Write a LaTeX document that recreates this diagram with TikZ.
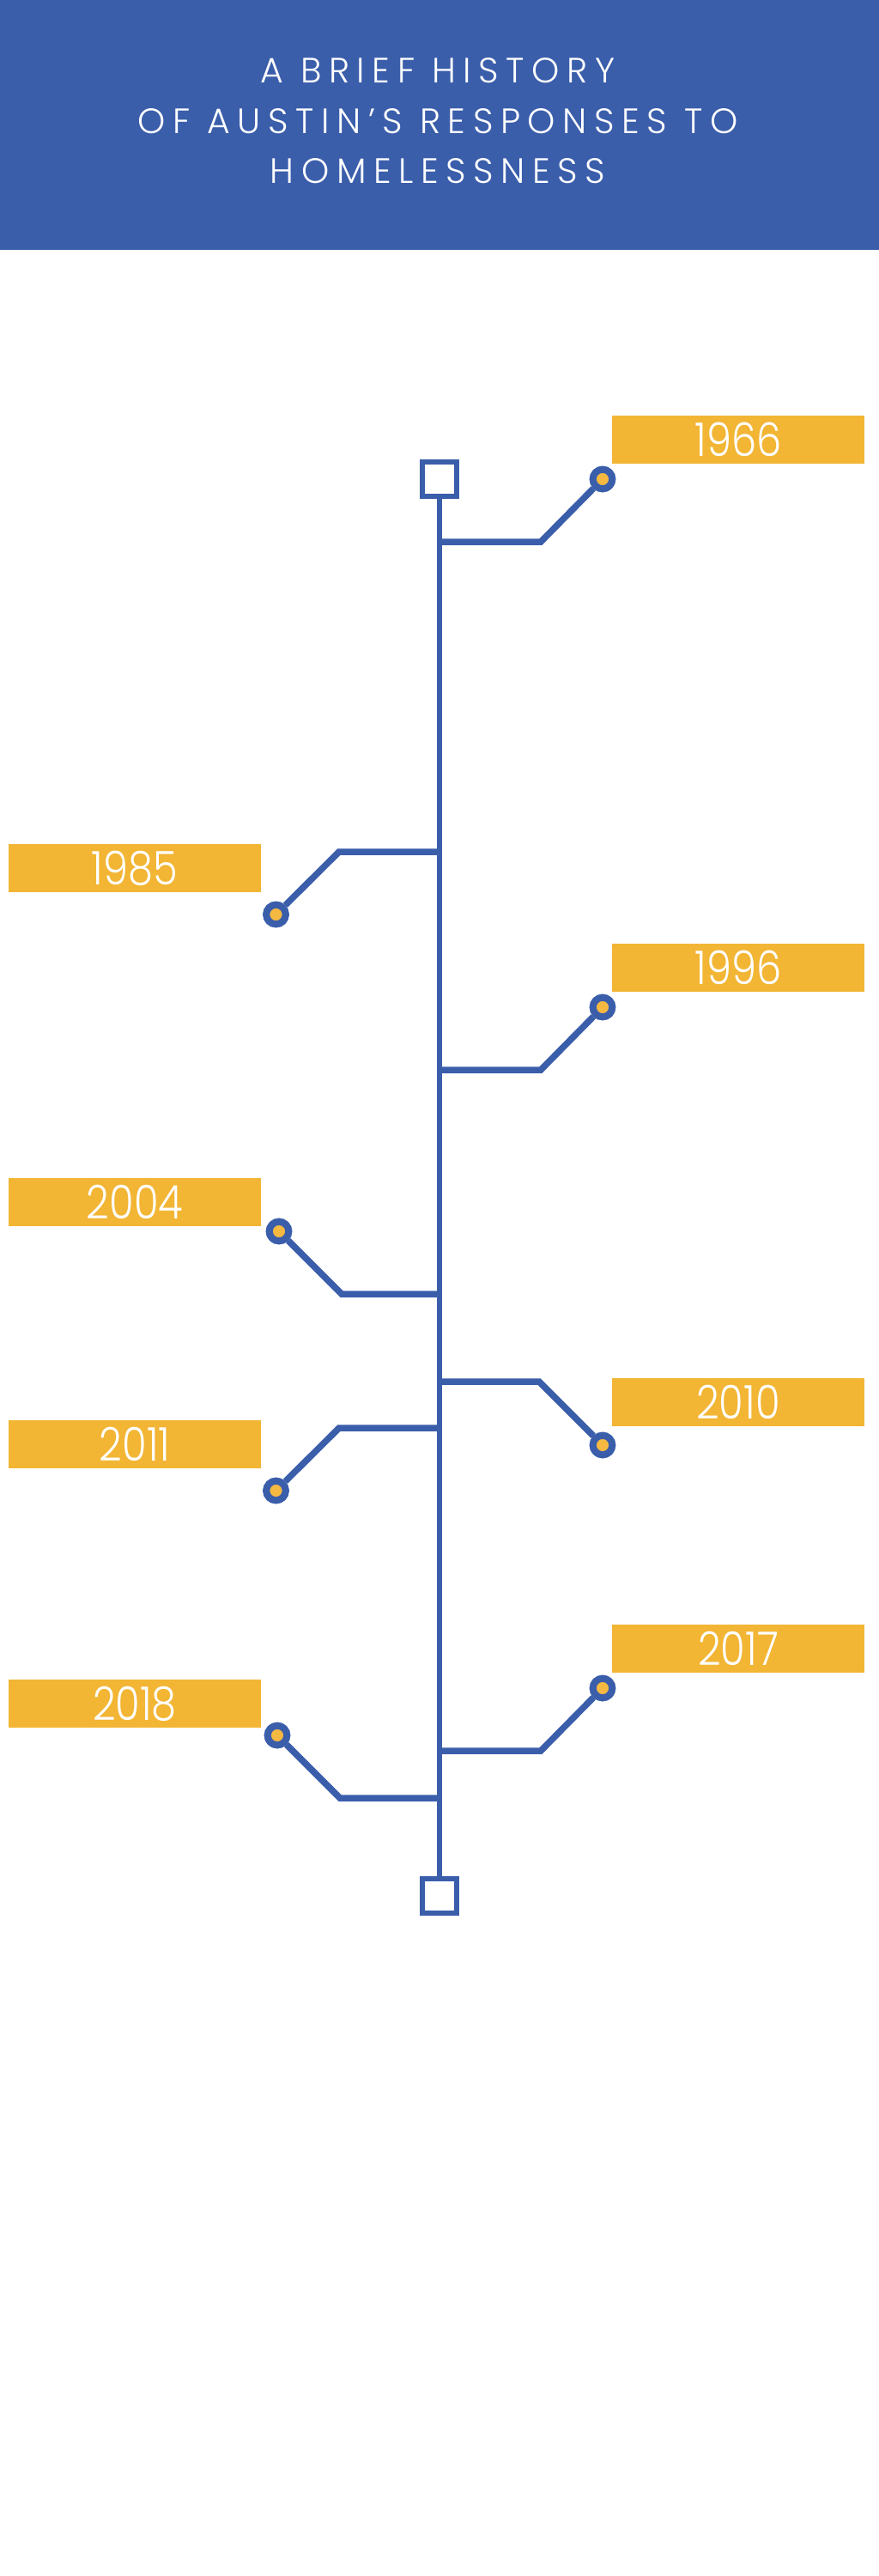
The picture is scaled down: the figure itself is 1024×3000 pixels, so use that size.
\documentclass[tikz,border=0pt]{standalone}
\usepackage{fontspec}
\IfFontExistsTF{Poppins Light}
  {\newfontfamily\yearfont{Poppins Light}\newfontfamily\titlefont{Poppins Light}[LetterSpace=21]}
  {\newfontfamily\yearfont{Poppins}\newfontfamily\titlefont{Poppins}[LetterSpace=18]}
\definecolor{tlblue}{RGB}{59,94,171}
\definecolor{tlyellow}{RGB}{242,181,52}
\definecolor{dotyellow}{RGB}{245,185,66}
\newcommand{\yr}[1]{\scalebox{0.86}[1]{#1}}
\begin{document}
\begin{tikzpicture}[x=1pt,y=-1pt,
  spine/.style={draw=tlblue,line width=6pt},
  branch/.style={draw=tlblue,line width=7.5pt,line join=miter},
  endsq/.style={draw=tlblue,fill=white,line width=6pt,minimum size=40pt,inner sep=0pt,rectangle},
  dot/.style={circle,draw=tlblue,fill=dotyellow,line width=8pt,minimum size=22.5pt,inner sep=0pt},
  yearbox/.style={fill=tlyellow,minimum width=294pt,minimum height=56pt,inner sep=0pt,text=white,font=\yearfont\fontsize{54}{54}\selectfont},
  titleline/.style={anchor=base,text=white,font=\titlefont\fontsize{41}{41}\selectfont,inner sep=0pt}]
\useasboundingbox (0,0) rectangle (1024,3000);
\fill[white] (0,0) rectangle (1024,3000);
% header
\node[fill=tlblue,minimum width=1024pt,minimum height=291pt,inner sep=0pt,anchor=north west] (header) at (0,0) {};
\node[titleline] (t1) at (510,97) {A BRIEF HISTORY};
\node[titleline] (t2) at (510,155) {OF AUSTIN’S RESPONSES TO};
\node[titleline] (t3) at (510,213) {HOMELESSNESS};
% spine
\node[endsq] (sqtop) at (512,558) {};
\node[endsq] (sqbot) at (512,2207.5) {};
\draw[spine] (sqtop.south) -- (sqbot.north);
% branch coordinates
\coordinate (b1) at (512,631);  \coordinate (e1) at (630,631);
\coordinate (b2) at (512,992);  \coordinate (e2) at (395,992);
\coordinate (b3) at (512,1246); \coordinate (e3) at (630,1246);
\coordinate (b4) at (514,1507); \coordinate (e4) at (398,1507);
\coordinate (b5) at (512,1609); \coordinate (e5) at (628,1609);
\coordinate (b6) at (512,1663); \coordinate (e6) at (395,1663);
\coordinate (b7) at (512,2039); \coordinate (e7) at (630,2039);
\coordinate (b8) at (512,2094); \coordinate (e8) at (396,2094);
% dots
\node[dot] (c1) at (702,558) {};
\node[dot] (c2) at (321.5,1065) {};
\node[dot] (c3) at (702,1173) {};
\node[dot] (c4) at (325,1434) {};
\node[dot] (c5) at (702,1683) {};
\node[dot] (c6) at (321.5,1736) {};
\node[dot] (c7) at (702,1966) {};
\node[dot] (c8) at (323,2021) {};
% branches
\foreach \i in {1,...,8} {\draw[branch] (b\i) -- (e\i) -- (c\i);}
% redraw dots on top
\foreach \i/\x/\y in {1/702/558,2/321.5/1065,3/702/1173,4/325/1434,5/702/1683,6/321.5/1736,7/702/1966,8/323/2021}
  {\node[dot] at (\x,\y) {};}
% year boxes
\node[yearbox] (y1) at (860,512) {\yr{1966}};
\node[yearbox] (y2) at (157,1011) {\yr{1985}};
\node[yearbox] (y3) at (860,1127) {\yr{1996}};
\node[yearbox] (y4) at (157,1400) {\yr{2004}};
\node[yearbox] (y5) at (860,1633) {\yr{2010}};
\node[yearbox] (y6) at (157,1682) {\yr{2011}};
\node[yearbox] (y7) at (860,1920) {\yr{2017}};
\node[yearbox] (y8) at (157,1984) {\yr{2018}};
\end{tikzpicture}
\end{document}
